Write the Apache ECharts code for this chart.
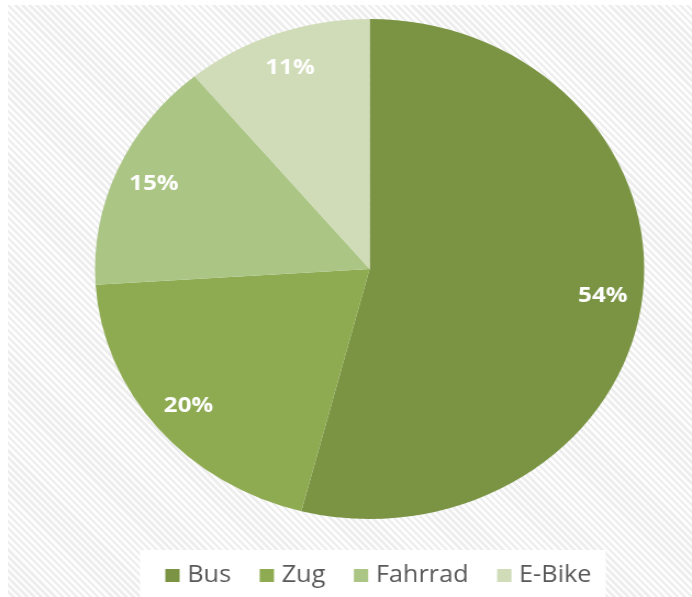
<!DOCTYPE html>
<html>
<head>
<meta charset="utf-8">
<script src="https://cdn.jsdelivr.net/npm/echarts@6/dist/echarts.min.js"></script>
<style>
  html, body { margin: 0; padding: 0; background: #ffffff; width: 692px; height: 597px; overflow: hidden; }
  #bg { position: absolute; left: 8px; top: 5px; width: 684px; height: 592px;
        background: repeating-linear-gradient(45deg, #fdfdfd 0px, #fdfdfd 2.5px, #eeeeee 2.5px, #eeeeee 5px); }
  #chart { position: absolute; left: 0; top: 0; width: 630px; height: 597px;
           transform: scaleX(1.0984); transform-origin: 0 0; }
</style>
</head>
<body>
<div id="bg"></div>
<div id="chart"></div>
<script>
const categories = ['Bus', 'Zug', 'Fahrrad', 'E-Bike'];
const values = [54, 20, 15, 11];
const colors = ['#7a9444', '#8eab52', '#abc585', '#cfdcb7'];

const chart = echarts.init(document.getElementById('chart'), null, { renderer: 'canvas' });

const pieData = categories.map((c, i) => ({ name: c, value: values[i], itemStyle: { color: colors[i] } }));
const labelData = categories.map((c, i) => ({ name: c, value: values[i] }));

chart.setOption({
  backgroundColor: 'transparent',
  animation: false,
  legend: {
    bottom: 0,
    left: 127.5,
    backgroundColor: '#ffffff',
    padding: [13, 13, 9, 23],
    itemWidth: 13,
    itemHeight: 13,
    itemGap: 26,
    icon: 'rect',
    selectedMode: false,
    textStyle: { fontFamily: 'Open Sans', fontSize: 23, color: '#595959', lineHeight: 25, padding: [0, 0, 0, 2] },
    data: categories.map((c, i) => ({ name: c, itemStyle: { color: colors[i], opacity: 1 } }))
  },
  series: [
    {
      type: 'pie',
      center: [336.5, 269],
      radius: [0, 250],
      startAngle: 90,
      clockwise: true,
      silent: true,
      label: { show: false },
      labelLine: { show: false },
      itemStyle: { borderWidth: 0 },
      data: pieData
    },
    {
      type: 'pie',
      center: [336.5, 269],
      radius: [172, 250],
      startAngle: 90,
      clockwise: true,
      silent: true,
      itemStyle: { color: 'rgba(0,0,0,0)', borderWidth: 0 },
      label: {
        show: true,
        position: 'inside',
        formatter: p => p.value + '%',
        fontFamily: 'Open Sans',
        fontWeight: 'bold',
        fontSize: 22,
        color: '#ffffff'
      },
      labelLine: { show: false },
      data: labelData
    }
  ]
});
</script>
</body>
</html>
